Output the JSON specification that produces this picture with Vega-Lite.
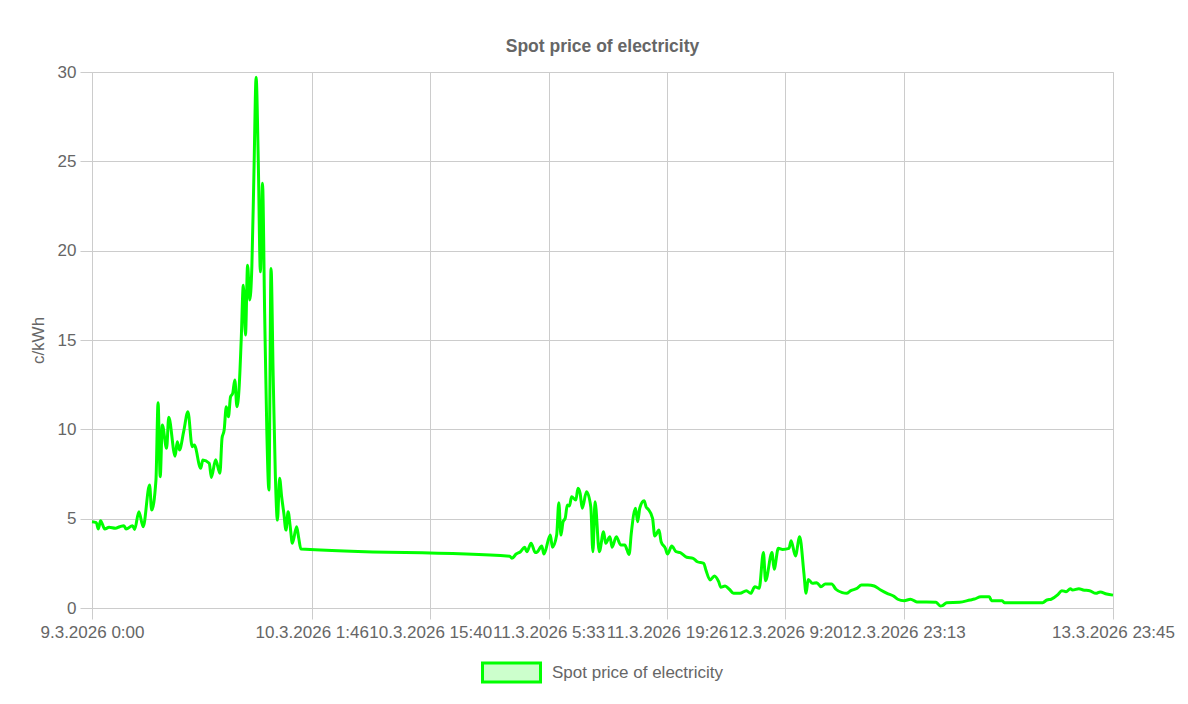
{
  "$schema": "https://vega.github.io/schema/vega-lite/v6.json",
  "width": 1021,
  "height": 536,
  "autosize": {"type": "none"},
  "padding": {"left": 92, "top": 72, "right": 75, "bottom": 96},
  "background": "white",
  "config": {
    "font": "Liberation Sans",
    "view": {"stroke": "#cccccc"},
    "axis": {"labelColor": "#666666", "titleColor": "#666666", "labelFont": "Liberation Sans", "titleFont": "Liberation Sans", "gridColor": "#cccccc", "tickColor": "#cccccc", "domain": false},
    "legend": {"layout": {"bottom": {"anchor": "middle"}}}
  },
  "title": {"text": "Spot price of electricity", "fontSize": 17.5, "fontWeight": "bold", "color": "#666666", "anchor": "middle", "offset": 8, "font": "Liberation Sans"},
  "data": {"values": [
    {"time": "2026-03-09T00:00:00Z", "price": 4.83},
    {"time": "2026-03-09T00:30:00Z", "price": 4.78},
    {"time": "2026-03-09T00:45:00Z", "price": 4.42},
    {"time": "2026-03-09T01:00:00Z", "price": 4.89},
    {"time": "2026-03-09T01:30:00Z", "price": 4.42},
    {"time": "2026-03-09T02:00:00Z", "price": 4.52},
    {"time": "2026-03-09T02:45:00Z", "price": 4.46},
    {"time": "2026-03-09T03:15:00Z", "price": 4.55},
    {"time": "2026-03-09T03:45:00Z", "price": 4.61},
    {"time": "2026-03-09T04:00:00Z", "price": 4.42},
    {"time": "2026-03-09T04:45:00Z", "price": 4.61},
    {"time": "2026-03-09T05:00:00Z", "price": 4.40},
    {"time": "2026-03-09T05:30:00Z", "price": 5.39},
    {"time": "2026-03-09T06:00:00Z", "price": 4.55},
    {"time": "2026-03-09T06:45:00Z", "price": 6.88},
    {"time": "2026-03-09T07:00:00Z", "price": 5.48},
    {"time": "2026-03-09T07:30:00Z", "price": 7.16},
    {"time": "2026-03-09T07:45:00Z", "price": 11.49},
    {"time": "2026-03-09T08:00:00Z", "price": 7.35},
    {"time": "2026-03-09T08:15:00Z", "price": 10.24},
    {"time": "2026-03-09T08:45:00Z", "price": 8.94},
    {"time": "2026-03-09T09:00:00Z", "price": 10.67},
    {"time": "2026-03-09T09:45:00Z", "price": 8.50},
    {"time": "2026-03-09T10:00:00Z", "price": 9.31},
    {"time": "2026-03-09T10:15:00Z", "price": 8.84},
    {"time": "2026-03-09T10:45:00Z", "price": 9.87},
    {"time": "2026-03-09T11:15:00Z", "price": 10.99},
    {"time": "2026-03-09T11:45:00Z", "price": 9.03},
    {"time": "2026-03-09T12:00:00Z", "price": 9.12},
    {"time": "2026-03-09T12:45:00Z", "price": 7.82},
    {"time": "2026-03-09T13:00:00Z", "price": 8.28},
    {"time": "2026-03-09T13:45:00Z", "price": 8.10},
    {"time": "2026-03-09T14:00:00Z", "price": 7.31},
    {"time": "2026-03-09T14:30:00Z", "price": 8.30},
    {"time": "2026-03-09T15:00:00Z", "price": 7.54},
    {"time": "2026-03-09T15:15:00Z", "price": 9.50},
    {"time": "2026-03-09T15:30:00Z", "price": 9.96},
    {"time": "2026-03-09T15:45:00Z", "price": 11.27},
    {"time": "2026-03-09T16:00:00Z", "price": 10.70},
    {"time": "2026-03-09T16:15:00Z", "price": 11.82},
    {"time": "2026-03-09T16:30:00Z", "price": 12.01},
    {"time": "2026-03-09T16:45:00Z", "price": 12.76},
    {"time": "2026-03-09T17:00:00Z", "price": 11.27},
    {"time": "2026-03-09T17:15:00Z", "price": 12.29},
    {"time": "2026-03-09T17:30:00Z", "price": 15.00},
    {"time": "2026-03-09T17:45:00Z", "price": 18.07},
    {"time": "2026-03-09T18:00:00Z", "price": 15.28},
    {"time": "2026-03-09T18:15:00Z", "price": 19.19},
    {"time": "2026-03-09T18:30:00Z", "price": 17.24},
    {"time": "2026-03-09T18:45:00Z", "price": 19.10},
    {"time": "2026-03-09T19:00:00Z", "price": 24.5},
    {"time": "2026-03-09T19:15:00Z", "price": 29.70},
    {"time": "2026-03-09T19:30:00Z", "price": 25.07},
    {"time": "2026-03-09T19:45:00Z", "price": 18.82},
    {"time": "2026-03-09T20:00:00Z", "price": 23.77},
    {"time": "2026-03-09T20:15:00Z", "price": 16.5},
    {"time": "2026-03-09T20:30:00Z", "price": 10.0},
    {"time": "2026-03-09T20:45:00Z", "price": 6.60},
    {"time": "2026-03-09T21:00:00Z", "price": 19.00},
    {"time": "2026-03-09T21:15:00Z", "price": 13.0},
    {"time": "2026-03-09T21:30:00Z", "price": 7.5},
    {"time": "2026-03-09T21:45:00Z", "price": 4.92},
    {"time": "2026-03-09T22:00:00Z", "price": 7.26},
    {"time": "2026-03-09T22:15:00Z", "price": 6.2},
    {"time": "2026-03-09T22:30:00Z", "price": 5.3},
    {"time": "2026-03-09T22:45:00Z", "price": 4.36},
    {"time": "2026-03-09T23:00:00Z", "price": 5.39},
    {"time": "2026-03-09T23:15:00Z", "price": 4.55},
    {"time": "2026-03-09T23:30:00Z", "price": 3.62},
    {"time": "2026-03-10T00:00:00Z", "price": 4.55},
    {"time": "2026-03-10T00:15:00Z", "price": 3.9},
    {"time": "2026-03-10T00:30:00Z", "price": 3.30},
    {"time": "2026-03-11T01:00:00Z", "price": 2.90},
    {"time": "2026-03-11T01:15:00Z", "price": 2.78},
    {"time": "2026-03-11T01:45:00Z", "price": 3.02},
    {"time": "2026-03-11T02:15:00Z", "price": 3.15},
    {"time": "2026-03-11T02:45:00Z", "price": 3.40},
    {"time": "2026-03-11T03:00:00Z", "price": 3.15},
    {"time": "2026-03-11T03:30:00Z", "price": 3.62},
    {"time": "2026-03-11T04:00:00Z", "price": 3.10},
    {"time": "2026-03-11T04:15:00Z", "price": 3.15},
    {"time": "2026-03-11T04:45:00Z", "price": 3.47},
    {"time": "2026-03-11T05:00:00Z", "price": 3.02},
    {"time": "2026-03-11T05:45:00Z", "price": 4.08},
    {"time": "2026-03-11T06:00:00Z", "price": 3.40},
    {"time": "2026-03-11T06:30:00Z", "price": 4.08},
    {"time": "2026-03-11T06:45:00Z", "price": 5.89},
    {"time": "2026-03-11T07:00:00Z", "price": 4.08},
    {"time": "2026-03-11T07:15:00Z", "price": 4.83},
    {"time": "2026-03-11T07:30:00Z", "price": 5.02},
    {"time": "2026-03-11T07:45:00Z", "price": 5.76},
    {"time": "2026-03-11T08:00:00Z", "price": 5.71},
    {"time": "2026-03-11T08:15:00Z", "price": 6.23},
    {"time": "2026-03-11T08:45:00Z", "price": 6.04},
    {"time": "2026-03-11T09:00:00Z", "price": 6.70},
    {"time": "2026-03-11T09:15:00Z", "price": 6.42},
    {"time": "2026-03-11T09:30:00Z", "price": 5.58},
    {"time": "2026-03-11T10:00:00Z", "price": 6.51},
    {"time": "2026-03-11T10:30:00Z", "price": 5.67},
    {"time": "2026-03-11T10:45:00Z", "price": 3.15},
    {"time": "2026-03-11T11:00:00Z", "price": 5.95},
    {"time": "2026-03-11T11:30:00Z", "price": 3.15},
    {"time": "2026-03-11T12:00:00Z", "price": 4.27},
    {"time": "2026-03-11T12:15:00Z", "price": 3.62},
    {"time": "2026-03-11T12:45:00Z", "price": 3.99},
    {"time": "2026-03-11T13:00:00Z", "price": 3.40},
    {"time": "2026-03-11T13:30:00Z", "price": 3.99},
    {"time": "2026-03-11T14:00:00Z", "price": 3.53},
    {"time": "2026-03-11T14:30:00Z", "price": 3.53},
    {"time": "2026-03-11T14:45:00Z", "price": 3.25},
    {"time": "2026-03-11T15:00:00Z", "price": 3.00},
    {"time": "2026-03-11T15:15:00Z", "price": 4.18},
    {"time": "2026-03-11T15:45:00Z", "price": 5.58},
    {"time": "2026-03-11T16:00:00Z", "price": 4.83},
    {"time": "2026-03-11T16:15:00Z", "price": 5.60},
    {"time": "2026-03-11T16:45:00Z", "price": 6.00},
    {"time": "2026-03-11T17:00:00Z", "price": 5.65},
    {"time": "2026-03-11T17:15:00Z", "price": 5.52},
    {"time": "2026-03-11T17:45:00Z", "price": 5.02},
    {"time": "2026-03-11T18:00:00Z", "price": 4.03},
    {"time": "2026-03-11T18:30:00Z", "price": 4.36},
    {"time": "2026-03-11T18:45:00Z", "price": 3.71},
    {"time": "2026-03-11T19:15:00Z", "price": 3.34},
    {"time": "2026-03-11T19:30:00Z", "price": 3.02},
    {"time": "2026-03-11T20:00:00Z", "price": 3.47},
    {"time": "2026-03-11T20:30:00Z", "price": 3.15},
    {"time": "2026-03-11T21:00:00Z", "price": 3.10},
    {"time": "2026-03-11T21:45:00Z", "price": 2.84},
    {"time": "2026-03-11T22:30:00Z", "price": 2.78},
    {"time": "2026-03-11T23:00:00Z", "price": 2.59},
    {"time": "2026-03-11T23:45:00Z", "price": 2.50},
    {"time": "2026-03-12T00:00:00Z", "price": 2.13},
    {"time": "2026-03-12T00:30:00Z", "price": 1.57},
    {"time": "2026-03-12T01:00:00Z", "price": 1.79},
    {"time": "2026-03-12T01:30:00Z", "price": 1.47},
    {"time": "2026-03-12T01:45:00Z", "price": 1.16},
    {"time": "2026-03-12T02:15:00Z", "price": 1.23},
    {"time": "2026-03-12T02:45:00Z", "price": 1.05},
    {"time": "2026-03-12T03:15:00Z", "price": 0.82},
    {"time": "2026-03-12T04:00:00Z", "price": 0.82},
    {"time": "2026-03-12T04:45:00Z", "price": 0.97},
    {"time": "2026-03-12T05:15:00Z", "price": 0.82},
    {"time": "2026-03-12T05:45:00Z", "price": 1.19},
    {"time": "2026-03-12T06:15:00Z", "price": 1.10},
    {"time": "2026-03-12T06:45:00Z", "price": 3.10},
    {"time": "2026-03-12T07:00:00Z", "price": 1.53},
    {"time": "2026-03-12T07:45:00Z", "price": 3.10},
    {"time": "2026-03-12T08:00:00Z", "price": 2.17},
    {"time": "2026-03-12T08:30:00Z", "price": 3.34},
    {"time": "2026-03-12T09:00:00Z", "price": 3.28},
    {"time": "2026-03-12T09:45:00Z", "price": 3.34},
    {"time": "2026-03-12T10:00:00Z", "price": 3.77},
    {"time": "2026-03-12T10:30:00Z", "price": 2.91},
    {"time": "2026-03-12T11:00:00Z", "price": 3.99},
    {"time": "2026-03-12T11:30:00Z", "price": 1.94},
    {"time": "2026-03-12T11:45:00Z", "price": 0.82},
    {"time": "2026-03-12T12:00:00Z", "price": 1.60},
    {"time": "2026-03-12T12:30:00Z", "price": 1.38},
    {"time": "2026-03-12T13:00:00Z", "price": 1.42},
    {"time": "2026-03-12T13:30:00Z", "price": 1.19},
    {"time": "2026-03-12T14:00:00Z", "price": 1.34},
    {"time": "2026-03-12T14:45:00Z", "price": 1.34},
    {"time": "2026-03-12T15:15:00Z", "price": 1.05},
    {"time": "2026-03-12T16:00:00Z", "price": 0.86},
    {"time": "2026-03-12T16:30:00Z", "price": 0.82},
    {"time": "2026-03-12T17:00:00Z", "price": 0.97},
    {"time": "2026-03-12T17:45:00Z", "price": 1.10},
    {"time": "2026-03-12T18:15:00Z", "price": 1.29},
    {"time": "2026-03-12T19:00:00Z", "price": 1.29},
    {"time": "2026-03-12T19:45:00Z", "price": 1.23},
    {"time": "2026-03-12T20:30:00Z", "price": 1.01},
    {"time": "2026-03-12T21:15:00Z", "price": 0.82},
    {"time": "2026-03-12T22:00:00Z", "price": 0.67},
    {"time": "2026-03-12T22:30:00Z", "price": 0.49},
    {"time": "2026-03-12T23:15:00Z", "price": 0.41},
    {"time": "2026-03-13T00:00:00Z", "price": 0.49},
    {"time": "2026-03-13T00:45:00Z", "price": 0.34},
    {"time": "2026-03-13T03:00:00Z", "price": 0.32},
    {"time": "2026-03-13T03:30:00Z", "price": 0.11},
    {"time": "2026-03-13T03:45:00Z", "price": 0.13},
    {"time": "2026-03-13T04:15:00Z", "price": 0.30},
    {"time": "2026-03-13T05:45:00Z", "price": 0.32},
    {"time": "2026-03-13T07:00:00Z", "price": 0.45},
    {"time": "2026-03-13T07:30:00Z", "price": 0.50},
    {"time": "2026-03-13T08:15:00Z", "price": 0.63},
    {"time": "2026-03-13T09:15:00Z", "price": 0.63},
    {"time": "2026-03-13T09:30:00Z", "price": 0.41},
    {"time": "2026-03-13T10:45:00Z", "price": 0.41},
    {"time": "2026-03-13T11:00:00Z", "price": 0.30},
    {"time": "2026-03-13T15:30:00Z", "price": 0.30},
    {"time": "2026-03-13T16:00:00Z", "price": 0.45},
    {"time": "2026-03-13T16:30:00Z", "price": 0.49},
    {"time": "2026-03-13T17:15:00Z", "price": 0.73},
    {"time": "2026-03-13T17:45:00Z", "price": 0.97},
    {"time": "2026-03-13T18:15:00Z", "price": 0.91},
    {"time": "2026-03-13T18:45:00Z", "price": 1.08},
    {"time": "2026-03-13T19:00:00Z", "price": 1.01},
    {"time": "2026-03-13T19:45:00Z", "price": 1.08},
    {"time": "2026-03-13T20:15:00Z", "price": 1.01},
    {"time": "2026-03-13T21:00:00Z", "price": 0.97},
    {"time": "2026-03-13T21:45:00Z", "price": 0.82},
    {"time": "2026-03-13T22:15:00Z", "price": 0.90},
    {"time": "2026-03-13T23:00:00Z", "price": 0.78},
    {"time": "2026-03-13T23:45:00Z", "price": 0.72}
  ]},
  "mark": {"type": "line", "interpolate": "monotone", "strokeWidth": 3},
  "encoding": {
    "x": {
      "field": "time",
      "type": "temporal",
      "title": null,
      "scale": {
        "type": "utc",
        "nice": false,
        "domain": [
          {"year": 2026, "month": 3, "date": 9, "hours": 0, "minutes": 0, "utc": true},
          {"year": 2026, "month": 3, "date": 13, "hours": 23, "minutes": 45, "utc": true}
        ]
      },
      "axis": {
        "values": [
          {"year": 2026, "month": 3, "date": 9, "hours": 0, "minutes": 0, "utc": true},
          {"year": 2026, "month": 3, "date": 10, "hours": 1, "minutes": 46, "utc": true},
          {"year": 2026, "month": 3, "date": 10, "hours": 15, "minutes": 40, "utc": true},
          {"year": 2026, "month": 3, "date": 11, "hours": 5, "minutes": 33, "utc": true},
          {"year": 2026, "month": 3, "date": 11, "hours": 19, "minutes": 26, "utc": true},
          {"year": 2026, "month": 3, "date": 12, "hours": 9, "minutes": 20, "utc": true},
          {"year": 2026, "month": 3, "date": 12, "hours": 23, "minutes": 13, "utc": true},
          {"year": 2026, "month": 3, "date": 13, "hours": 23, "minutes": 45, "utc": true}
        ],
        "labelExpr": "utcFormat(datum.value, '%-d.%-m.%Y %-H:%M')",
        "labelOverlap": false,
        "labelFontSize": 17,
        "labelPadding": 5,
        "tickSize": 11,
        "labelAlign": "center"
      }
    },
    "y": {
      "field": "price",
      "type": "quantitative",
      "title": "c/kWh",
      "scale": {"domain": [0, 30], "nice": false},
      "axis": {
        "values": [0, 5, 10, 15, 20, 25, 30],
        "labelFontSize": 17,
        "labelPadding": 4,
        "tickSize": 12,
        "titleFontSize": 17,
        "titleFontWeight": "normal",
        "titlePadding": 10
      }
    },
    "color": {
      "datum": "Spot price of electricity",
      "scale": {"range": ["#00ff00"]},
      "legend": {
        "title": null,
        "orient": "bottom",
        "direction": "horizontal",
        "offset": 2,
        "labelFontSize": 17,
        "labelColor": "#666666",
        "labelFont": "Liberation Sans",
        "labelOffset": 10,
        "labelLimit": 400,
        "symbolType": "M-1,-0.33H1V0.33H-1Z",
        "symbolSize": 3364,
        "symbolStrokeWidth": 3,
        "symbolFillColor": "#ccffcc",
        "symbolStrokeColor": "#00ff00",
        "encode": {
          "symbols": {
            "update": {
              "fill": {"value": "#ccffcc"},
              "stroke": {"value": "#00ff00"},
              "strokeWidth": {"value": 3},
              "opacity": {"value": 1}
            }
          }
        }
      }
    }
  }
}
